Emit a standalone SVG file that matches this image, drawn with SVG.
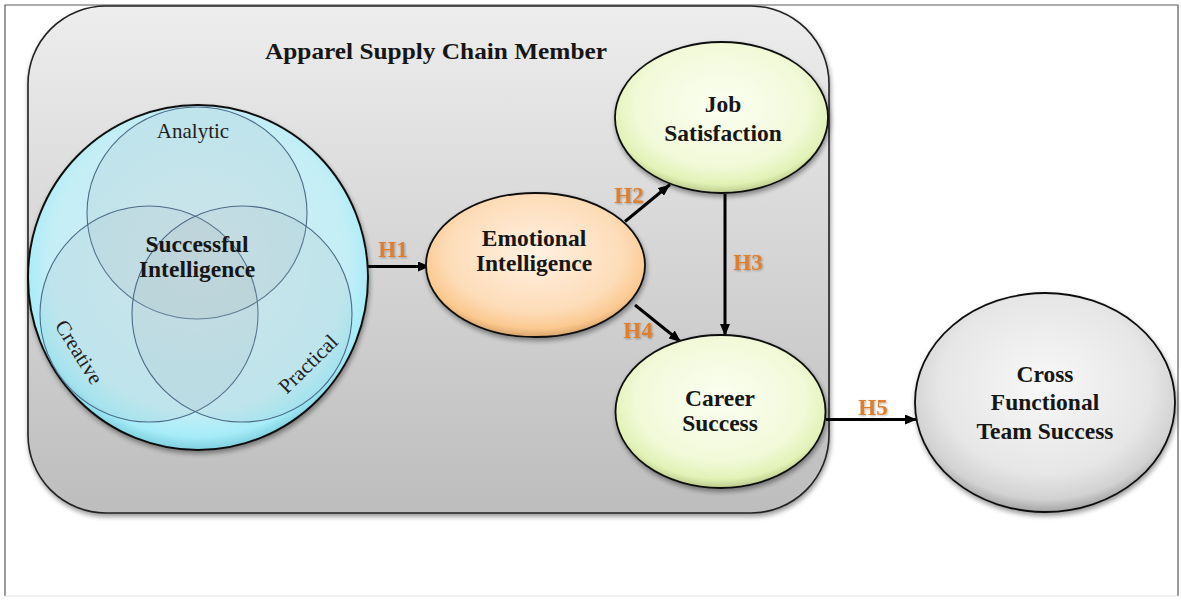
<svg xmlns="http://www.w3.org/2000/svg" width="1181" height="602" viewBox="0 0 1181 602">
<defs>
<style>
.node-text{font-family:"Liberation Serif","Times New Roman",serif;font-weight:bold;font-size:23.5px;fill:#161616;text-anchor:middle}
.venn-text{font-family:"Liberation Serif","Times New Roman",serif;font-size:21px;fill:#1e1e1e;text-anchor:middle}
.hlabel{font-family:"Liberation Serif","Times New Roman",serif;font-weight:bold;font-size:23px;fill:#e07e2a;text-anchor:middle}
.conn{stroke:#000;stroke-width:3;fill:none;marker-end:url(#arrow)}
.node-edge{stroke:#111;stroke-width:1.8}
.venn-circle{fill:#9fb4bb;fill-opacity:0.16;stroke:#4d6b88;stroke-width:1.1}
</style>
<marker id="arrow" markerUnits="userSpaceOnUse" viewBox="0 0 12 10" refX="12" refY="5" markerWidth="12" markerHeight="10" orient="auto">
<path d="M0,0 L12,5 L0,10 z" fill="#000"/>
</marker>
<linearGradient id="gContainer" x1="0" y1="0" x2="0" y2="1">
<stop offset="0" stop-color="#ededed"/>
<stop offset="1" stop-color="#bdbdbd"/>
</linearGradient>
<radialGradient id="gSI" cx="50%" cy="45%" r="55%">
<stop offset="0" stop-color="#d6eef2"/>
<stop offset="0.8" stop-color="#c4eef6"/>
<stop offset="0.93" stop-color="#a6ecf8"/>
<stop offset="1" stop-color="#7fcfdf"/>
</radialGradient>
<radialGradient id="gPeach" cx="50%" cy="42%" r="58%">
<stop offset="0" stop-color="#fff1e2"/>
<stop offset="0.7" stop-color="#fddcb8"/>
<stop offset="0.9" stop-color="#fbc990"/>
<stop offset="1" stop-color="#d9a46c"/>
</radialGradient>
<radialGradient id="gGreen" cx="50%" cy="42%" r="58%">
<stop offset="0" stop-color="#fbfff2"/>
<stop offset="0.7" stop-color="#f1f9d8"/>
<stop offset="0.9" stop-color="#e2f2b6"/>
<stop offset="1" stop-color="#bccb8c"/>
</radialGradient>
<radialGradient id="gGray" cx="50%" cy="42%" r="58%">
<stop offset="0" stop-color="#f8f8f8"/>
<stop offset="0.7" stop-color="#e6e6e6"/>
<stop offset="0.9" stop-color="#d2d2d2"/>
<stop offset="1" stop-color="#a4a4a4"/>
</radialGradient>
<filter id="shadow" x="-10%" y="-10%" width="125%" height="130%">
<feGaussianBlur in="SourceAlpha" stdDeviation="2.5"/>
<feOffset dx="1" dy="3" result="b"/>
<feComponentTransfer><feFuncA type="linear" slope="0.4"/></feComponentTransfer>
<feMerge><feMergeNode/><feMergeNode in="SourceGraphic"/></feMerge>
</filter>
<filter id="tshadow" x="-20%" y="-20%" width="140%" height="150%">
<feGaussianBlur in="SourceAlpha" stdDeviation="0.8"/>
<feOffset dx="0.5" dy="1"/>
<feComponentTransfer><feFuncA type="linear" slope="0.3"/></feComponentTransfer>
<feMerge><feMergeNode/><feMergeNode in="SourceGraphic"/></feMerge>
</filter>
</defs>

<rect x="0" y="0" width="1181" height="602" fill="#ffffff"/>
<g id="frame">
<path d="M5,596 L5,5 L1178,5 L1178,596" fill="none" stroke="#5a5a5a" stroke-width="1.2"/>
<path d="M5,596 L1178,596" fill="none" stroke="#e2e2e2" stroke-width="1"/>
</g>

<g id="container">
<rect x="28" y="6" width="801" height="507" rx="78" ry="78" fill="url(#gContainer)" stroke="#222" stroke-width="1.6" filter="url(#shadow)"/>
<text x="436" y="59" font-family="Liberation Serif, Times New Roman, serif" font-weight="bold" font-size="24" fill="#161616" text-anchor="middle" textLength="342" lengthAdjust="spacingAndGlyphs">Apparel Supply Chain Member</text>
</g>

<g id="connectors">
<line class="conn" x1="368" y1="266.5" x2="430" y2="266.5"/>
<line class="conn" x1="625" y1="221.5" x2="670" y2="184.5"/>
<line class="conn" x1="725" y1="194" x2="725" y2="336"/>
<line class="conn" x1="635" y1="305" x2="681" y2="342"/>
<line class="conn" x1="826" y1="419.5" x2="917" y2="419.5"/>
<g filter="url(#tshadow)">
<text class="hlabel" x="393" y="257">H1</text>
<text class="hlabel" x="629" y="203">H2</text>
<text class="hlabel" x="748" y="270">H3</text>
<text class="hlabel" x="638" y="338">H4</text>
<text class="hlabel" x="873" y="415">H5</text>
</g>
</g>

<g id="successful-intelligence">
<ellipse cx="198" cy="277.5" rx="170" ry="172.5" fill="url(#gSI)" stroke="#111" stroke-width="2" filter="url(#shadow)"/>
<ellipse class="venn-circle" cx="197" cy="213" rx="110" ry="106"/>
<ellipse class="venn-circle" cx="149" cy="314" rx="109" ry="108"/>
<ellipse class="venn-circle" cx="242" cy="314" rx="110" ry="108"/>
<text class="venn-text" x="193" y="138">Analytic</text>
<text class="venn-text" transform="translate(79,352) rotate(58)" dominant-baseline="central">Creative</text>
<text class="venn-text" transform="translate(308,364) rotate(-44.5)" dominant-baseline="central">Practical</text>
<text class="node-text" x="197" y="252">Successful</text>
<text class="node-text" x="197" y="277">Intelligence</text>
</g>

<g id="emotional-intelligence">
<ellipse class="node-edge" cx="535.5" cy="265" rx="109.5" ry="72" fill="url(#gPeach)" filter="url(#shadow)"/>
<text class="node-text" x="534" y="246">Emotional</text>
<text class="node-text" x="534" y="271">Intelligence</text>
</g>

<g id="job-satisfaction">
<ellipse class="node-edge" cx="721.5" cy="117.5" rx="106.5" ry="75.5" fill="url(#gGreen)" filter="url(#shadow)"/>
<text class="node-text" x="723" y="112">Job</text>
<text class="node-text" x="723" y="140.5">Satisfaction</text>
</g>

<g id="career-success">
<ellipse class="node-edge" cx="720.5" cy="411.5" rx="105" ry="76.5" fill="url(#gGreen)" filter="url(#shadow)"/>
<text class="node-text" x="720" y="406">Career</text>
<text class="node-text" x="720" y="431">Success</text>
</g>

<g id="cross-functional-team-success">
<ellipse class="node-edge" cx="1045" cy="402.5" rx="130" ry="109.5" fill="url(#gGray)" filter="url(#shadow)"/>
<text class="node-text" x="1045" y="381.5">Cross</text>
<text class="node-text" x="1045" y="410">Functional</text>
<text class="node-text" x="1045" y="438.5">Team Success</text>
</g>
</svg>
